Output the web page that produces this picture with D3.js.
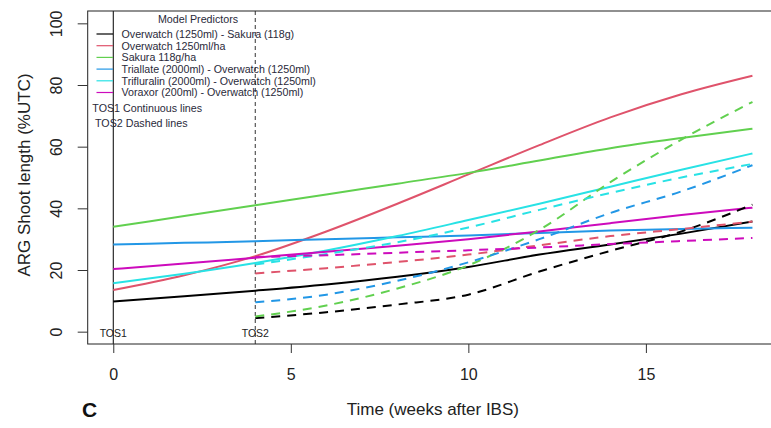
<!DOCTYPE html>
<html>
<head>
<meta charset="utf-8">
<script src="https://cdn.jsdelivr.net/npm/d3@7"></script>
<style>
  html, body { margin: 0; padding: 0; background: #fff; }
  svg { display: block; }
  text { font-family: "Liberation Sans", Arial, sans-serif; }
</style>
</head>
<body>
<svg id="chart" width="771" height="428"></svg>
<script>
// Prediction times (weeks after IBS)
const timeTOS1 = [0, 2, 4, 6, 8, 10, 12, 14, 16, 18];
const timeTOS2 = [4, 6, 8, 10, 12, 14, 16, 18];

// Predicted ARG shoot length (%UTC), first time of sowing
const overwatchSakuraTOS1 = [9.8, 11.5, 13.3, 15.3, 17.8, 21.0, 25.0, 28.3, 31.8, 35.7];
const overwatchTOS1       = [13.5, 18.3, 24.5, 32.5, 41.5, 51.0, 60.5, 69.5, 77.0, 83.0];
const sakuraTOS1          = [34.0, 37.5, 41.0, 44.5, 48.0, 51.5, 55.5, 59.5, 62.8, 65.8];
const triallateTOS1       = [28.3, 28.8, 29.3, 30.0, 30.6, 31.2, 32.0, 32.8, 33.3, 33.7];
const trifluralinTOS1     = [15.7, 18.8, 22.3, 26.3, 31.0, 36.2, 41.5, 47.0, 52.5, 57.8];
const voraxorTOS1         = [20.3, 22.1, 24.0, 25.9, 27.9, 30.0, 32.5, 35.2, 37.8, 40.2];

// Predicted ARG shoot length (%UTC), second time of sowing
const overwatchSakuraTOS2 = [4.4, 6.3, 8.8, 12.0, 19.5, 26.2, 32.5, 41.2];
const overwatchTOS2       = [18.9, 20.6, 22.6, 25.0, 28.0, 31.0, 33.3, 35.7];
const sakuraTOS2          = [4.9, 8.5, 14.0, 21.5, 33.0, 48.5, 62.3, 74.5];
const triallateTOS2       = [9.5, 12.0, 16.5, 22.5, 30.0, 38.5, 45.5, 54.0];
const trifluralinTOS2     = [21.8, 25.2, 29.0, 33.8, 39.5, 45.0, 50.0, 54.4];
const voraxorTOS2         = [24.2, 24.8, 25.6, 26.4, 27.3, 28.4, 29.4, 30.4];

const predictorLabels = [
  "Overwatch (1250ml) - Sakura (118g)",
  "Overwatch 1250ml/ha",
  "Sakura 118g/ha",
  "Triallate (2000ml) - Overwatch (1250ml)",
  "Trifluralin (2000ml) - Overwatch (1250ml)",
  "Voraxor (200ml) - Overwatch (1250ml)"
];
const xTicks = [0, 5, 10, 15];
const yTicks = [0, 20, 40, 60, 80, 100];
const sowingTimes = [0, 4];
const sowingLabels = ["TOS1", "TOS2"];

// Line colours, one per predictor
const predictorColors = ["#000000", "#DF536B", "#61D04F", "#2297E6", "#28E2E5", "#CD0BBC"];

const tos1Series = [overwatchSakuraTOS1, overwatchTOS1, sakuraTOS1, triallateTOS1, trifluralinTOS1, voraxorTOS1];
const tos2Series = [overwatchSakuraTOS2, overwatchTOS2, sakuraTOS2, triallateTOS2, trifluralinTOS2, voraxorTOS2];

const svg = d3.select("#chart");

const x = d3.scaleLinear().domain([-0.72, 18.72]).range([87.7, 778]);
const y = d3.scaleLinear().domain([-4, 104]).range([344, 11]);

const line = d3.line()
  .x(d => x(d[0]))
  .y(d => y(d[1]))
  .curve(d3.curveMonotoneX);

// Sowing-time reference lines
svg.append("line")
  .attr("x1", x(sowingTimes[0])).attr("x2", x(sowingTimes[0]))
  .attr("y1", y.range()[1]).attr("y2", y.range()[0])
  .attr("stroke", "#000").attr("stroke-width", 1);
svg.append("line")
  .attr("x1", x(sowingTimes[1])).attr("x2", x(sowingTimes[1]))
  .attr("y1", y.range()[1]).attr("y2", y.range()[0])
  .attr("stroke", "#555").attr("stroke-width", 1.2)
  .attr("stroke-dasharray", "4,3");

// Solid prediction lines (TOS1)
tos1Series.forEach((vals, i) => {
  svg.append("path")
    .datum(timeTOS1.map((t, k) => [t, vals[k]]))
    .attr("fill", "none")
    .attr("stroke", predictorColors[i])
    .attr("stroke-width", 2)
    .attr("d", line);
});

// Dashed prediction lines (TOS2)
tos2Series.forEach((vals, i) => {
  svg.append("path")
    .datum(timeTOS2.map((t, k) => [t, vals[k]]))
    .attr("fill", "none")
    .attr("stroke", predictorColors[i])
    .attr("stroke-width", 2)
    .attr("stroke-dasharray", "9,7")
    .attr("d", line);
});

// Plot frame
svg.append("rect")
  .attr("x", x.range()[0]).attr("y", y.range()[1])
  .attr("width", x.range()[1] - x.range()[0])
  .attr("height", y.range()[0] - y.range()[1])
  .attr("fill", "none").attr("stroke", "#222").attr("stroke-width", 1);

// Axes
const yAxis = svg.append("g")
  .attr("transform", `translate(${x.range()[0]},0)`)
  .call(d3.axisLeft(y).tickValues(yTicks).tickSize(10).tickSizeOuter(0));
yAxis.select(".domain").remove();
yAxis.selectAll(".tick line").attr("stroke", "#333");
yAxis.selectAll(".tick text")
  .attr("x", 0).attr("y", 0).attr("dy", 0)
  .attr("text-anchor", "middle")
  .attr("transform", "translate(-26,0) rotate(-90)")
  .attr("font-size", 16)
  .attr("font-family", "Liberation Sans, Arial, sans-serif")
  .attr("fill", "#222");

const xAxis = svg.append("g")
  .attr("transform", `translate(0,${y.range()[0]})`)
  .call(d3.axisBottom(x).tickValues(xTicks).tickSize(9).tickSizeOuter(0));
xAxis.select(".domain").remove();
xAxis.selectAll(".tick line").attr("stroke", "#333");
xAxis.selectAll(".tick text")
  .attr("y", 36).attr("dy", 0)
  .attr("font-size", 16)
  .attr("font-family", "Liberation Sans, Arial, sans-serif")
  .attr("fill", "#222");

// Axis titles
svg.append("text")
  .attr("x", (x.range()[0] + x.range()[1]) / 2).attr("y", 415)
  .attr("text-anchor", "middle").attr("font-size", 17).attr("fill", "#222")
  .text("Time (weeks after IBS)");
svg.append("text")
  .attr("transform", "translate(30,175) rotate(-90)")
  .attr("text-anchor", "middle").attr("font-size", 17).attr("fill", "#222")
  .text("ARG Shoot length (%UTC)");

// Panel letter
svg.append("text")
  .attr("x", 82).attr("y", 417)
  .attr("font-family", "Open Sans, sans-serif").attr("font-weight", "bold")
  .attr("font-size", 21).attr("fill", "#111")
  .text("C");

// Sowing-time labels along the bottom
svg.selectAll("text.tos")
  .data(sowingTimes)
  .join("text")
  .attr("class", "tos")
  .attr("x", d => x(d)).attr("y", 337)
  .attr("text-anchor", "middle").attr("font-size", 10.5).attr("fill", "#222")
  .text((d, i) => sowingLabels[i]);

// Legend
const legend = svg.append("g");
legend.append("text")
  .attr("x", 198).attr("y", 23)
  .attr("text-anchor", "middle").attr("font-size", 10.7).attr("fill", "#2a2a3a")
  .text("Model Predictors");
predictorLabels.forEach((lab, i) => {
  const ly = 34 + i * 11.7;
  legend.append("line")
    .attr("x1", 96.5).attr("x2", 113)
    .attr("y1", ly).attr("y2", ly)
    .attr("stroke", predictorColors[i]).attr("stroke-width", 1.2);
  legend.append("text")
    .attr("x", 121.5).attr("y", ly + 3.8)
    .attr("font-size", 10.7).attr("fill", "#2a2a3a")
    .text(lab);
});
legend.append("text")
  .attr("x", 92.3).attr("y", 111.5)
  .attr("font-size", 10.7).attr("fill", "#2a2a3a")
  .text("TOS1 Continuous lines");
legend.append("text")
  .attr("x", 95).attr("y", 127)
  .attr("font-size", 10.7).attr("fill", "#2a2a3a")
  .text("TOS2 Dashed lines");
</script>
</body>
</html>
